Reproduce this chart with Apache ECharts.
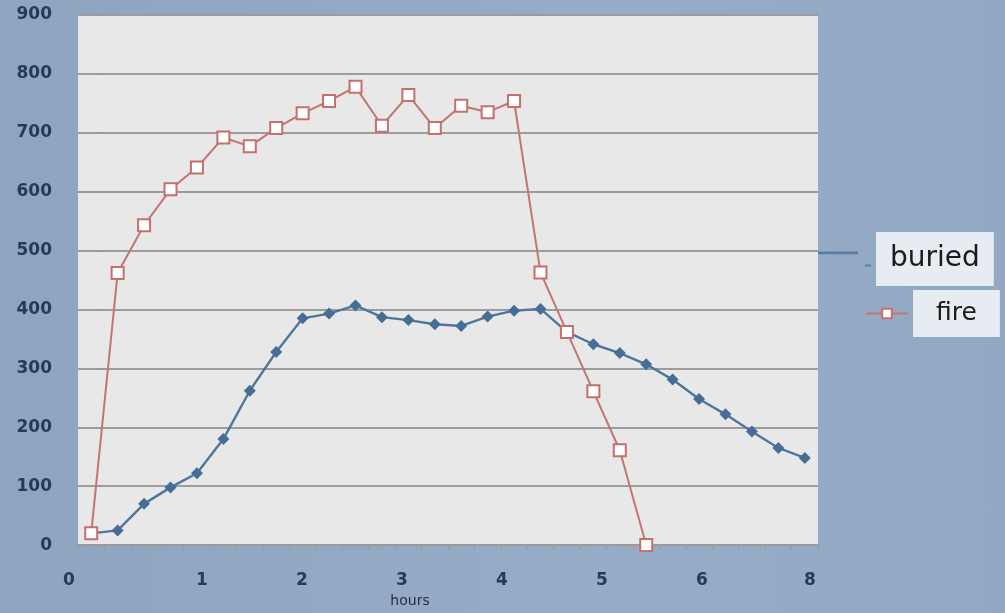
<!DOCTYPE html>
<html>
<head>
<meta charset="utf-8">
<script src="https://cdn.jsdelivr.net/npm/echarts@6/dist/echarts.min.js"></script>
<style>
html,body{margin:0;padding:0;width:1005px;height:613px;overflow:hidden;
background:linear-gradient(90deg,#8ea4bf 0%,#97adc7 60%,#93a9c3 100%);}
#c{width:1005px;height:613px;}
</style>
</head>
<body>
<div id="c"></div>
<script>
// sample index (equally spaced readings)
const categories = ['1','2','3','4','5','6','7','8','9','10','11','12','13','14','15','16','17','18','19','20','21','22','23','24','25','26','27','28'];
const buried = [20,25,70,98,122,180,262,328,385,393,407,387,382,375,372,388,398,401,362,341,326,307,281,248,222,193,165,148];
const fire = [20,462,543,604,641,692,677,708,733,754,778,712,764,708,746,735,754,463,362,261,161,0];
const yTicks = [0,100,200,300,400,500,600,700,800,900];
const xTickValues = [0,1,2,3,4,5,6,7];
const xTickLabels = ['0','1','2','3','4','5','6','8'];

const textColor = '#273a58';
const labelFont = {fontFamily: 'DejaVu Sans', fontWeight: 'bold', fontSize: 17, color: textColor};
const chart = echarts.init(document.getElementById('c'));
chart.setOption({
  backgroundColor: 'transparent',
  animation: false,
  grid: {left: 78, top: 15, width: 740, height: 535, show: true,
         backgroundColor: '#e8e8e8', borderWidth: 0},
  legend: [
    {
      left: 818, top: 232, padding: 0, itemGap: 0, itemWidth: 53, itemHeight: 15,
      data: [{name: 'buried', icon: 'path://M0,0 H40 V2.8 H0 Z M47,13 H53 V15 H47 Z',
              itemStyle: {color: '#5a7ea3'}}],
      textStyle: {fontFamily: 'DejaVu Sans', fontSize: 28, color: '#1b1b1b',
                  backgroundColor: '#e7ecf2', padding: [10, 14, 10, 14], lineHeight: 34}
    },
    {
      left: 865, top: 290, padding: 0, itemWidth: 42, itemHeight: 12,
      data: ['fire'],
      textStyle: {fontFamily: 'DejaVu Sans', fontSize: 25, color: '#1b1b1b',
                  backgroundColor: '#e7ecf2', padding: [9, 23, 9, 23], lineHeight: 29}
    }
  ],
  xAxis: [
    {
      type: 'category', data: categories, boundaryGap: true,
      axisLine: {lineStyle: {color: '#9a9a9a', width: 2}},
      axisTick: {show: true, length: 5, lineStyle: {color: '#9a9a9a'}},
      axisLabel: {show: false},
      splitLine: {show: false}
    },
    {
      type: 'value', position: 'bottom', min: -0.24, max: 7.16,
      minInterval: 1, maxInterval: 1, splitNumber: 8,
      axisLine: {show: false}, axisTick: {show: false}, splitLine: {show: false},
      axisLabel: Object.assign({
        showMinLabel: false, showMaxLabel: false, margin: 27,
        formatter: function (v) {
          const i = xTickValues.indexOf(Math.round(v * 1000) / 1000);
          if (i < 0) return '';
          if (i === 0) return '{z|' + xTickLabels[i] + '}';
          if (i === xTickLabels.length - 1) return '{e|' + xTickLabels[i] + '}';
          return xTickLabels[i];
        },
        rich: {z: Object.assign({padding: [0, 66, 0, 0]}, labelFont),
               e: Object.assign({padding: [0, 0, 0, 16]}, labelFont)}
      }, labelFont),
      name: 'hours', nameLocation: 'middle', nameGap: 48,
      nameTextStyle: {fontFamily: 'DejaVu Sans', fontSize: 14, color: '#2a2f3a',
                      padding: [0, 76, 0, 0]}
    }
  ],
  yAxis: {
    type: 'value', min: yTicks[0], max: yTicks[yTicks.length - 1], interval: 100,
    axisLine: {show: false},
    axisTick: {show: true, length: 6, lineStyle: {color: '#9a9a9a', width: 2}},
    axisLabel: Object.assign({margin: 26,
                formatter: function (v) { return yTicks.indexOf(v) >= 0 ? String(v) : ''; }}, labelFont),
    splitLine: {lineStyle: {color: '#9c9c9c', width: 2}}
  },
  series: [
    {
      name: 'buried', type: 'line', data: buried, xAxisIndex: 0,
      symbol: 'diamond', symbolSize: 12,
      lineStyle: {color: '#4f769c', width: 2.4},
      itemStyle: {color: '#466d95', borderWidth: 0},
      z: 2
    },
    {
      name: 'fire', type: 'line', data: fire, xAxisIndex: 0,
      symbol: 'emptyRect', symbolSize: 12,
      lineStyle: {color: '#c47471', width: 2},
      itemStyle: {color: '#c66f6c', borderWidth: 1.6},
      z: 3
    }
  ]
});
</script>
</body>
</html>
